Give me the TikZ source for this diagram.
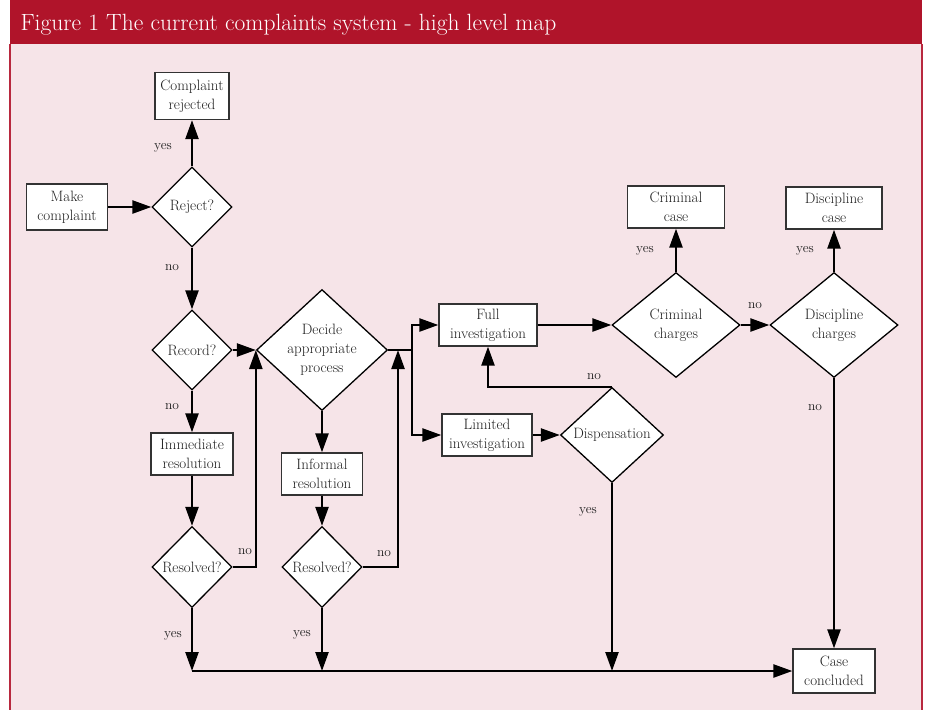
\documentclass[tikz,border=0pt]{standalone}
\usepackage{fontspec}
\usetikzlibrary{shapes.geometric,arrows.meta}
\definecolor{titlered}{HTML}{B0142A}
\definecolor{panelpink}{HTML}{F6E4E8}
\definecolor{framered}{HTML}{B8283E}
\definecolor{inkgray}{HTML}{1E1E1E}
\begin{document}
\begin{tikzpicture}[x=1pt,y=-1pt,
  every node/.style={font=\fontsize{15}{19}\selectfont, text=inkgray},
  box/.style={draw=black!80, line width=1.3pt, fill=white, align=center, inner sep=2pt},
  dia/.style={draw=black, line width=1.3pt, fill=white, shape=diamond, align=center, inner sep=0pt},
  flow/.style={line width=2.4pt, -{Triangle[length=19pt,width=13pt]}},
  link/.style={line width=2.4pt},
  lbl/.style={font=\fontsize{13.5}{16}\selectfont}]

% page, title bar and panel
\useasboundingbox (0,0) rectangle (926,710);
\fill[white] (0,0) rectangle (926,710);
\fill[panelpink] (10,44) rectangle (922,710);
\fill[titlered] (10,0) rectangle (922,44);
\draw[framered, line width=1.2pt] (10,44) -- (10,710) (922,44) -- (922,710);
\node[anchor=base west, text=white, font=\fontsize{23.5}{26}\selectfont] (title) at (17,30)
  {Figure 1 The current complaints system - high level map};

% process boxes
\node[box, minimum width=74, minimum height=47] (crej)  at (192,96)  {Complaint\\rejected};
\node[box, minimum width=81, minimum height=46] (make)  at (67,207)  {Make\\complaint};
\node[box, minimum width=82, minimum height=42] (imm)   at (192,454) {Immediate\\resolution};
\node[box, minimum width=81, minimum height=42] (inf)   at (322,474) {Informal\\resolution};
\node[box, minimum width=98, minimum height=42] (full)  at (488,325) {Full\\investigation};
\node[box, minimum width=90, minimum height=42] (lim)   at (487,435) {Limited\\investigation};
\node[box, minimum width=97, minimum height=42] (ccase) at (676,207) {Criminal\\case};
\node[box, minimum width=96, minimum height=42] (dcase) at (834,208) {Discipline\\case};
\node[box, minimum width=82, minimum height=44] (concl) at (834,671) {Case\\concluded};

% decisions
\node[dia, minimum width=80, minimum height=80]   (rej)  at (192,207) {Reject?};
\node[dia, minimum width=80, minimum height=80]   (rec)  at (192,350) {Record?};
\node[dia, minimum width=131, minimum height=121] (dec)  at (322,350) {Decide\\appropriate\\process};
\node[dia, minimum width=80, minimum height=81]   (res1) at (192,567) {Resolved?};
\node[dia, minimum width=80, minimum height=81]   (res2) at (322,567) {Resolved?};
\node[dia, minimum width=103, minimum height=95]  (disp) at (612,435) {Dispensation};
\node[dia, minimum width=128, minimum height=105] (crim) at (676,325) {Criminal\\charges};
\node[dia, minimum width=128, minimum height=105] (disc) at (834,325) {Discipline\\charges};

% junction points
\coordinate (j2) at (398,350);
\coordinate (sp) at (412,350);
\coordinate (b1) at (192,671);
\coordinate (b2) at (322,671);
\coordinate (b3) at (612,671);

% connectors
\draw[flow] (make.east) -- (rej.west);
\draw[flow] (rej.north) -- (crej.south);
\draw[flow] (rej.south) -- (rec.north);
\draw[flow] (rec.east) -- (dec.west);
\draw[flow] (rec.south) -- (imm.north);
\draw[flow] (imm.south) -- (res1.north);
\draw[flow] (res1.east) -| (dec.west);
\draw[flow] (dec.south) -- (inf.north);
\draw[flow] (inf.south) -- (res2.north);
\draw[flow] (res2.east) -| (j2);
\draw[link] (dec.east) -- (sp);
\draw[flow] (sp) |- (full.west);
\draw[flow] (sp) |- (lim.west);
\draw[flow] (lim.east) -- (disp.west);
\draw[flow] (disp.north) -| (full.south);
\draw[flow] (full.east) -- (crim.west);
\draw[flow] (crim.north) -- (ccase.south);
\draw[flow] (crim.east) -- (disc.west);
\draw[flow] (disc.north) -- (dcase.south);
\draw[flow] (disc.south) -- (concl.north);
\draw[flow] (res1.south) -- (b1);
\draw[flow] (res2.south) -- (b2);
\draw[flow] (disp.south) -- (b3);
\draw[flow] (b1) -- (concl.west);

% branch labels
\node[lbl] (l1)  at (163,148) {yes};
\node[lbl] (l2)  at (172,268) {no};
\node[lbl] (l3)  at (172,407) {no};
\node[lbl] (l4)  at (245,552) {no};
\node[lbl] (l5)  at (384,554) {no};
\node[lbl] (l6)  at (173,636) {yes};
\node[lbl] (l7)  at (302,635) {yes};
\node[lbl] (l8)  at (594,377) {no};
\node[lbl] (l9)  at (588,512) {yes};
\node[lbl] (l10) at (645,251) {yes};
\node[lbl] (l11) at (755,306) {no};
\node[lbl] (l12) at (805,251) {yes};
\node[lbl] (l13) at (815,408) {no};
\end{tikzpicture}
\end{document}
